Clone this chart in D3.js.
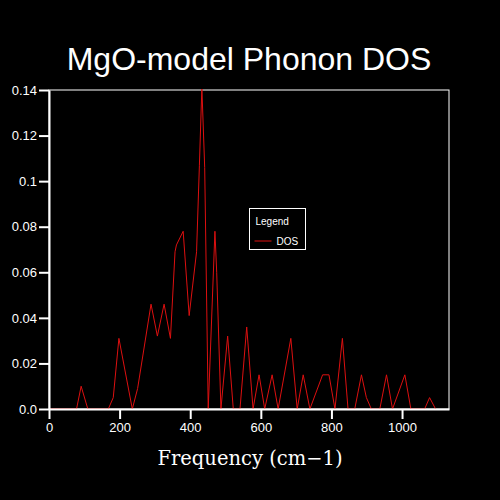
<!DOCTYPE html>
<html>
<head>
<meta charset="utf-8">
<script src="https://cdn.jsdelivr.net/npm/d3@7"></script>
<style>
  body { margin: 0; background: #000; }
  svg { display: block; }
</style>
</head>
<body>
<svg width="500" height="500"></svg>
<script>
// DOS curve
const freq = [0, 78, 91, 110, 168, 182, 198, 236, 251, 289, 307, 326, 344, 357, 361,
    380, 397, 418, 426, 433, 441, 451, 470, 475, 487, 506, 522, 541, 560, 578,
    595, 611, 632, 649, 685, 703, 720, 739, 775, 793, 810, 831, 847, 866, 885,
    899, 913, 937, 956, 973, 1008, 1025, 1064, 1078, 1095];
const dos = [0, 0, 0.010, 0, 0, 0.005, 0.031, 0, 0.009, 0.046, 0.032, 0.046, 0.031, 0.069, 0.072,
    0.078, 0.041, 0.069, 0.107, 0.141, 0.106, 0, 0.078, 0.060, 0, 0.032, 0, 0, 0.036, 0,
    0.015, 0, 0.015, 0, 0.031, 0, 0.015, 0, 0.015, 0.015, 0, 0.031, 0, 0, 0.015,
    0.005, 0, 0, 0.015, 0, 0.015, 0, 0, 0.005, 0];

const xTicks = [0, 200, 400, 600, 800, 1000];
const xTickLabels = ["0", "200", "400", "600", "800", "1000"];
const yTicks = [0, 0.02, 0.04, 0.06, 0.08, 0.1, 0.12, 0.14];
const yTickLabels = ["0.0", "0.02", "0.04", "0.06", "0.08", "0.1", "0.12", "0.14"];

const plotLeft = 49, plotTop = 90, plotWidth = 400, plotHeight = 319;

let svg = d3.select("svg");
svg.append("rect").attr("width", 500).attr("height", 500).attr("fill", "#000");

let x = d3.scaleLinear().domain([0, 1133]).range([plotLeft, plotLeft + plotWidth]);
let y = d3.scaleLinear().domain([0, 0.14]).range([plotTop + plotHeight, plotTop]);

// frame
svg.append("rect")
    .attr("x", plotLeft).attr("y", plotTop)
    .attr("width", plotWidth).attr("height", plotHeight)
    .attr("fill", "none").attr("stroke", "#fff").attr("stroke-width", 1);

svg.append("clipPath").attr("id", "clip")
    .append("rect").attr("x", plotLeft).attr("y", plotTop - 1)
    .attr("width", plotWidth).attr("height", plotHeight + 1);

svg.append("path")
    .datum(d3.zip(freq, dos))
    .attr("clip-path", "url(#clip)")
    .attr("fill", "none")
    .attr("stroke", "#dd1010")
    .attr("stroke-width", 1)
    .attr("d", d3.line().x(d => x(d[0])).y(d => y(d[1])));

let xAxis = svg.append("g")
    .attr("transform", `translate(0,${plotTop + plotHeight})`)
    .call(d3.axisBottom(x).tickValues(xTicks).tickSize(10).tickSizeOuter(0).tickPadding(4)
        .tickFormat((d, i) => xTickLabels[i]));

let yAxis = svg.append("g")
    .attr("transform", `translate(${plotLeft},0)`)
    .call(d3.axisLeft(y).tickValues(yTicks).tickSize(10).tickSizeOuter(0).tickPadding(2)
        .tickFormat((d, i) => yTickLabels[i]));

[xAxis, yAxis].forEach(g => {
    g.select(".domain").attr("stroke", "#fff").attr("stroke-width", 2);
    g.selectAll(".tick line").attr("stroke", "#fff").attr("stroke-width", 2);
    g.selectAll(".tick text")
        .attr("fill", "#fff")
        .style("font-family", "'Liberation Sans', sans-serif")
        .style("font-size", "13px");
});

svg.append("text")
    .attr("x", 249).attr("y", 70)
    .attr("text-anchor", "middle")
    .attr("fill", "#fff")
    .style("font-family", "'Liberation Sans', Arial, sans-serif")
    .style("font-size", "32px")
    .text("MgO-model Phonon DOS");

svg.append("text")
    .attr("x", 250).attr("y", 465)
    .attr("text-anchor", "middle")
    .attr("fill", "#fff")
    .style("font-family", "'DejaVu Serif', serif")
    .style("font-size", "19.5px")
    .text("Frequency (cm\u22121)");

// legend
let legend = svg.append("g").attr("transform", "translate(249.5,208.5)");
legend.append("rect")
    .attr("width", 56).attr("height", 41)
    .attr("fill", "#000").attr("stroke", "#fff").attr("stroke-width", 1);
legend.append("text")
    .attr("x", 6).attr("y", 16)
    .attr("fill", "#fff")
    .style("font-family", "'Liberation Sans', sans-serif")
    .style("font-size", "10px")
    .text("Legend");
legend.append("line")
    .attr("x1", 5).attr("x2", 22).attr("y1", 32.5).attr("y2", 32.5)
    .attr("stroke", "#dd1010").attr("stroke-width", 1);
legend.append("text")
    .attr("x", 27).attr("y", 36)
    .attr("fill", "#fff")
    .style("font-family", "'Liberation Sans', sans-serif")
    .style("font-size", "10px")
    .text("DOS");
</script>
</body>
</html>
